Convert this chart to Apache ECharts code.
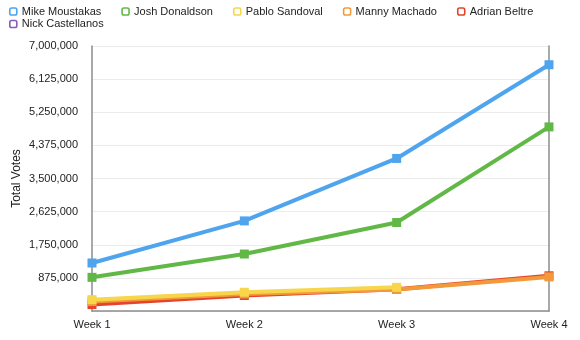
<!DOCTYPE html>
<html>
<head>
<meta charset="utf-8">
<script src="https://cdn.jsdelivr.net/npm/echarts@6/dist/echarts.min.js"></script>
<style>
  html, body { margin: 0; padding: 0; background: #fff; }
  #chart { width: 580px; height: 340px; }
</style>
</head>
<body>
<div id="chart"></div>
<script>
// Weekly cumulative All-Star ballot totals, AL third base
const weeks = ['Week 1', 'Week 2', 'Week 3', 'Week 4'];
const players = ['Mike Moustakas', 'Josh Donaldson', 'Pablo Sandoval', 'Manny Machado', 'Adrian Beltre', 'Nick Castellanos'];
const moustakas = [1268000, 2380000, 4030000, 6505000];
const donaldson = [889000, 1505000, 2337000, 4863000];
const sandoval = [300000, 495000, 626000, null];
const machado = [250000, 450000, 570000, 900000];
const beltre = [170000, 410000, 575000, 930000];
const castellanos = [null, null, null, null];
const yTicks = { min: 0, max: 7000000, interval: 875000 };

const colors = ['#4fa4ee', '#62b847', '#f8d64c', '#f29a3b', '#e6432c', '#8a5bb3'];
const seriesValues = [moustakas, donaldson, sandoval, machado, beltre, castellanos];
// stacking order of the lines: lower z sits underneath
const zOrder = [6, 5, 4, 3, 2, 1];

const chart = echarts.init(document.getElementById('chart'));
const font = 'Liberation Sans, Arial, Helvetica, sans-serif';

function legendBlock(names, top) {
  return {
    left: 4,
    top: top,
    itemWidth: 7,
    itemHeight: 7,
    itemGap: 20,
    icon: 'roundRect',
    textStyle: { fontSize: 11, color: '#222', fontFamily: font },
    data: names.map(p => {
      const i = players.indexOf(p);
      return { name: p, itemStyle: { color: '#fff', borderColor: colors[i], borderWidth: 1.6 } };
    })
  };
}

chart.setOption({
  animation: false,
  textStyle: { fontFamily: font },
  legend: [
    legendBlock(players.slice(0, 5), 1),
    legendBlock(players.slice(5), 13.5)
  ],
  grid: { left: 92, right: 31, top: 46, bottom: 29, containLabel: false, outerBoundsMode: 'none' },
  xAxis: {
    type: 'category',
    data: weeks,
    boundaryGap: false,
    axisLine: { lineStyle: { color: '#8c8c8c', width: 1.5 } },
    axisTick: { show: false },
    axisLabel: { color: '#222', fontSize: 11, margin: 8 }
  },
  yAxis: [{
    type: 'value',
    min: yTicks.min,
    max: yTicks.max,
    interval: yTicks.interval,
    name: 'Total Votes',
    nameLocation: 'middle',
    nameGap: 69,
    nameMoveOverlap: false,
    nameTextStyle: { fontSize: 12, color: '#222' },
    axisLine: { show: true, lineStyle: { color: '#8c8c8c', width: 1.5 } },
    axisTick: { show: false },
    axisLabel: {
      color: '#222', fontSize: 11, margin: 14, showMinLabel: false,
      formatter: v => v.toLocaleString('en-US')
    },
    splitLine: { lineStyle: { color: '#ececec', width: 1 } }
  }, {
    type: 'value',
    position: 'right',
    min: yTicks.min,
    max: yTicks.max,
    interval: yTicks.interval,
    axisLine: { show: true, lineStyle: { color: '#8c8c8c', width: 1.5 } },
    axisTick: { show: false },
    axisLabel: { show: false },
    splitLine: { show: false }
  }],
  series: players.map((p, i) => ({
    name: p,
    type: 'line',
    data: seriesValues[i],
    z: zOrder[i],
    symbol: 'rect',
    symbolSize: 9,
    showAllSymbol: true,
    clip: false,
    lineStyle: { width: 4, color: colors[i] },
    itemStyle: { color: colors[i] }
  }))
});
</script>
</body>
</html>
